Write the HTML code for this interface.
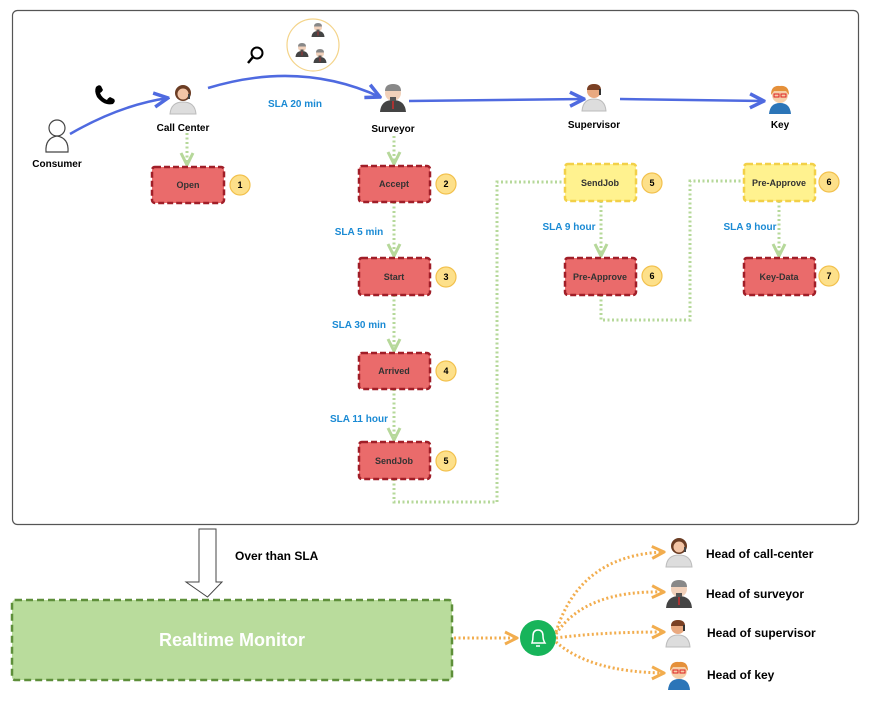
<!DOCTYPE html>
<html><head><meta charset="utf-8"><style>
html,body{margin:0;padding:0;background:#fff;}
svg{display:block;font-family:"Liberation Sans",Arial,sans-serif;}
.b{font-weight:bold;font-size:10px;fill:#000;}
.bt{font-weight:bold;font-size:9px;fill:#333;}
.sla{font-weight:bold;font-size:10px;fill:#1a8ad4;}
.num{font-weight:bold;font-size:9px;fill:#000;}
</style></head><body>
<svg width="875" height="701" viewBox="0 0 875 701" xmlns="http://www.w3.org/2000/svg">
<defs>
<marker id="ab" viewBox="0 0 10 10" refX="9" refY="5" markerWidth="7" markerHeight="7" orient="auto"><path d="M1 1 L9 5 L1 9" fill="none" stroke="#4f6ae0" stroke-width="2"/></marker>
<marker id="ag" viewBox="0 0 10 10" refX="9" refY="5" markerWidth="5" markerHeight="5" orient="auto"><path d="M1 1 L9 5 L1 9" fill="none" stroke="#b6d89a" stroke-width="2"/></marker>
<marker id="ao" viewBox="0 0 10 10" refX="9" refY="5" markerWidth="5" markerHeight="5" orient="auto"><path d="M1 1 L9 5 L1 9" fill="none" stroke="#f2ad4e" stroke-width="2"/></marker>
<g id="pcc"><circle cx="0" cy="-7" r="8" fill="#6b3d24"/><path d="M-13 14 Q-12 2 0 2 Q12 2 13 14 Z" fill="#ddd" stroke="#bbb"/><circle cx="0" cy="-6" r="5.5" fill="#f3c5a6"/><rect x="5" y="-6" width="2" height="5" fill="#444"/></g>
<g id="psv"><path d="M-13 14 Q-12 2 0 2 Q12 2 13 14 Z" fill="#444"/><circle cx="0" cy="-5" r="8" fill="#f1d1bb"/><path d="M-8 -7 Q-8 -14 0 -14 Q8 -14 8 -7 Z" fill="#888"/><rect x="-3" y="-1" width="6" height="4" fill="#555"/><rect x="-1" y="3" width="2" height="8" fill="#a33"/></g>
<g id="psp"><path d="M-12 14 Q-11 2 0 2 Q11 2 12 14 Z" fill="#ddd" stroke="#bbb"/><circle cx="0" cy="-6" r="7" fill="#e9a980"/><path d="M-7 -7 Q-7 -13 0 -13 Q7 -13 7 -7 Z" fill="#7a4024"/><rect x="5" y="-8" width="2" height="6" fill="#333"/></g>
<g id="pky"><path d="M-11 14 Q-10 3 0 3 Q10 3 11 14 Z" fill="#2b75b8"/><circle cx="0" cy="-5" r="8" fill="#f6cfa8"/><path d="M-9 -5 Q-9 -15 0 -14 Q9 -15 9 -5 L6 -9 L-6 -9 Z" fill="#e5903a"/><rect x="-6" y="-6" width="5" height="3" fill="none" stroke="#d22" stroke-width="1"/><rect x="1" y="-6" width="5" height="3" fill="none" stroke="#d22" stroke-width="1"/></g>
</defs>

<rect x="12.5" y="10.5" width="846" height="514" rx="5" fill="#fff" stroke="#555" stroke-width="1.2"/>

<!-- consumer -->
<circle cx="57" cy="128" r="8" fill="#fff" stroke="#444" stroke-width="1.2"/>
<path d="M46 152 Q45 138 57 136 Q69 138 68 152 Z" fill="#fff" stroke="#444" stroke-width="1.2"/>
<text x="57" y="167" class="b" text-anchor="middle">Consumer</text>
<path d="M96 87 Q99 84 101 86 L103 90 Q102 92 100 93 Q102 98 107 100 Q108 98 110 97 L114 99 Q116 101 113 104 Q104 106 97 97 Q94 91 96 87 Z" fill="#000"/>
<path d="M70 134 Q120 105 168 98" fill="none" stroke="#4f6ae0" stroke-width="2.5" marker-end="url(#ab)"/>

<use href="#pcc" x="183" y="100"/>
<text x="183" y="131" class="b" text-anchor="middle">Call Center</text>
<path d="M208 88 Q300 60 380 97" fill="none" stroke="#4f6ae0" stroke-width="2.5" marker-end="url(#ab)"/>
<circle cx="257" cy="53" r="5.5" fill="none" stroke="#000" stroke-width="2"/><line x1="253" y1="57" x2="248" y2="63" stroke="#000" stroke-width="2.5"/>
<circle cx="313" cy="45" r="26" fill="#fff" stroke="#f4d48a" stroke-width="1.2"/>
<g transform="scale(0.5)"><use href="#psv" x="636" y="60"/><use href="#psv" x="604" y="100"/><use href="#psv" x="640" y="112"/></g>
<text x="295" y="107" class="sla" text-anchor="middle">SLA 20 min</text>

<use href="#psv" x="393" y="98"/>
<text x="393" y="132" class="b" text-anchor="middle">Surveyor</text>
<path d="M409 101 L584 99" fill="none" stroke="#4f6ae0" stroke-width="2.5" marker-end="url(#ab)"/>
<use href="#psp" x="594" y="97"/>
<text x="594" y="128" class="b" text-anchor="middle">Supervisor</text>
<path d="M620 99 L764 101" fill="none" stroke="#4f6ae0" stroke-width="2.5" marker-end="url(#ab)"/>
<use href="#pky" x="780" y="100"/>
<text x="780" y="128" class="b" text-anchor="middle">Key</text>

<!-- green dotted -->
<g fill="none" stroke="#b6d89a" stroke-width="3" stroke-dasharray="2 2.5">
<line x1="187" y1="133" x2="187" y2="165" marker-end="url(#ag)"/>
<line x1="394" y1="136" x2="394" y2="164" marker-end="url(#ag)"/>
<line x1="394" y1="202" x2="394" y2="256" marker-end="url(#ag)"/>
<line x1="394" y1="295" x2="394" y2="351" marker-end="url(#ag)"/>
<line x1="394" y1="389" x2="394" y2="440" marker-end="url(#ag)"/>
<polyline points="394,479 394,502 497,502 497,182 563,182"/>
<line x1="601" y1="201" x2="601" y2="256" marker-end="url(#ag)"/>
<polyline points="601,295 601,320 690,320 690,181 743,181"/>
<line x1="779" y1="201" x2="779" y2="256" marker-end="url(#ag)"/>
</g>

<!-- boxes -->
<g stroke-width="2.5" stroke-dasharray="6 3">
<rect x="152" y="167" width="72" height="36" rx="3" fill="#ea6b6b" stroke="#a01e28"/>
<rect x="359" y="166" width="71" height="36" rx="3" fill="#ea6b6b" stroke="#a01e28"/>
<rect x="359" y="258" width="71" height="37" rx="3" fill="#ea6b6b" stroke="#a01e28"/>
<rect x="359" y="353" width="71" height="36" rx="3" fill="#ea6b6b" stroke="#a01e28"/>
<rect x="359" y="442" width="71" height="37" rx="3" fill="#ea6b6b" stroke="#a01e28"/>
<rect x="565" y="164" width="71" height="37" rx="3" fill="#fff28f" stroke="#f2d048"/>
<rect x="565" y="258" width="71" height="37" rx="3" fill="#ea6b6b" stroke="#a01e28"/>
<rect x="744" y="164" width="71" height="37" rx="3" fill="#fff28f" stroke="#f2d048"/>
<rect x="744" y="258" width="71" height="37" rx="3" fill="#ea6b6b" stroke="#a01e28"/>
</g>
<g class="bt" text-anchor="middle">
<text x="188" y="188">Open</text><text x="394" y="187">Accept</text><text x="394" y="280">Start</text>
<text x="394" y="374">Arrived</text><text x="394" y="464">SendJob</text><text x="600" y="186">SendJob</text>
<text x="600" y="280">Pre-Approve</text><text x="779" y="186">Pre-Approve</text><text x="779" y="280">Key-Data</text>
</g>
<g fill="#fde08a" stroke="#f2c14e" stroke-width="1.2">
<circle cx="240" cy="185" r="10"/><circle cx="446" cy="184" r="10"/><circle cx="446" cy="277" r="10"/>
<circle cx="446" cy="371" r="10"/><circle cx="446" cy="461" r="10"/><circle cx="652" cy="183" r="10"/>
<circle cx="652" cy="276" r="10"/><circle cx="829" cy="182" r="10"/><circle cx="829" cy="276" r="10"/>
</g>
<g class="num" text-anchor="middle">
<text x="240" y="188">1</text><text x="446" y="187">2</text><text x="446" y="280">3</text><text x="446" y="374">4</text>
<text x="446" y="464">5</text><text x="652" y="186">5</text><text x="652" y="279">6</text><text x="829" y="185">6</text><text x="829" y="279">7</text>
</g>
<g class="sla" text-anchor="middle">
<text x="359" y="235">SLA 5 min</text><text x="359" y="328">SLA 30 min</text><text x="359" y="422">SLA 11 hour</text>
<text x="569" y="230">SLA 9 hour</text><text x="750" y="230">SLA 9 hour</text>
</g>

<!-- bottom -->
<path d="M199 529 H216 V582 H222 L207.5 597 L186 582 H199 Z" fill="#fff" stroke="#444" stroke-width="1"/>
<text x="235" y="560" font-size="12" font-weight="bold">Over than SLA</text>
<rect x="12" y="600" width="440" height="80" rx="3" fill="#b9dc9c" stroke="#5e8f3a" stroke-width="2.5" stroke-dasharray="7 4"/>
<text x="232" y="646" text-anchor="middle" font-size="18" font-weight="bold" fill="#fff">Realtime Monitor</text>
<g fill="none" stroke="#f2ad4e" stroke-width="3" stroke-dasharray="2 2.5">
<line x1="454" y1="638" x2="517" y2="638" marker-end="url(#ao)"/>
<path d="M556 632 Q580 555 664 552" marker-end="url(#ao)"/>
<path d="M556 634 Q585 590 664 592" marker-end="url(#ao)"/>
<path d="M556 638 Q600 632 664 632" marker-end="url(#ao)"/>
<path d="M556 642 Q590 672 664 673" marker-end="url(#ao)"/>
</g>
<circle cx="538" cy="638" r="18" fill="#17b45a"/>
<path d="M532 643 Q533 640 533 636 Q533 630 538 630 Q543 630 543 636 Q543 640 545 643 Z" fill="none" stroke="#fff" stroke-width="1.5"/>
<line x1="536" y1="646" x2="540" y2="646" stroke="#fff" stroke-width="1.5"/>
<use href="#pcc" x="679" y="553"/>
<use href="#psv" x="679" y="594"/>
<use href="#psp" x="678" y="633"/>
<use href="#pky" x="679" y="676"/>
<g font-size="12" font-weight="bold">
<text x="706" y="558">Head of call-center</text><text x="706" y="598">Head of surveyor</text>
<text x="707" y="637">Head of supervisor</text><text x="707" y="679">Head of key</text>
</g>
</svg>
</body></html>
